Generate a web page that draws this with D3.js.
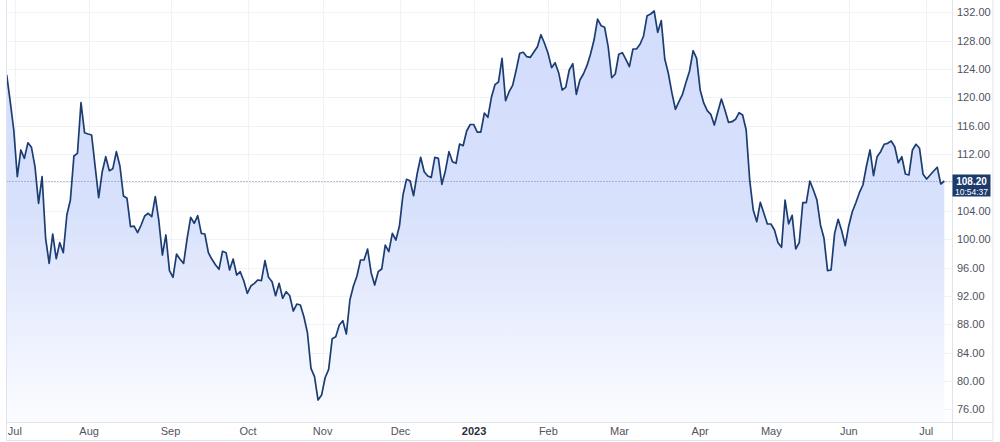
<!DOCTYPE html>
<html>
<head>
<meta charset="utf-8">
<script src="https://cdn.jsdelivr.net/npm/d3@7"></script>
<style>
  body { margin: 0; background: #fff; }
  svg { display: block; font-family: "Liberation Sans", Arial, sans-serif; }
</style>
</head>
<body>
<div id="frame"></div>
<script>
// daily closes, one per trading day (end of June 2022 -> early July 2023)
var values = [
  123.16, 119.39, 115.40, 108.81, 112.58, 111.40, 113.60, 112.96, 110.22, 105.06,
  108.81, 100.12, 96.59, 100.73, 97.24, 99.50, 98.09, 103.41, 105.52, 111.73,
  112.11, 119.25, 115.02, 114.83, 114.69, 110.22, 105.85, 109.51, 111.63, 109.66,
  109.94, 112.34, 110.32, 106.09, 105.76, 101.76, 101.85, 100.91, 102.00, 103.27,
  103.65, 103.17, 105.99, 102.60, 97.76, 100.59, 95.55, 94.62, 97.90, 97.16,
  96.59, 100.12, 103.08, 102.24, 103.31, 100.82, 100.73, 98.09, 97.16, 96.40,
  95.75, 98.29, 98.09, 95.65, 97.20, 94.94, 95.41, 94.14, 92.36, 93.39,
  93.77, 94.24, 94.14, 96.96, 94.62, 94.00, 92.02, 93.77, 91.66, 92.59,
  92.02, 89.86, 90.85, 90.71, 89.06, 86.80, 81.78, 80.60, 77.31, 78.01,
  80.45, 81.64, 85.96, 86.24, 87.89, 88.50, 86.62, 91.42, 93.39, 94.80,
  97.06, 97.06, 98.61, 95.27, 93.53, 95.41, 95.79, 99.17, 98.23, 100.82,
  99.88, 101.85, 106.23, 108.44, 108.24, 106.13, 109.19, 111.55, 109.51, 108.91,
  108.72, 111.55, 111.40, 107.74, 109.66, 112.34, 110.92, 110.70, 113.42, 113.18,
  115.26, 116.17, 116.17, 115.11, 115.11, 117.79, 117.19, 120.01, 121.79, 122.17,
  125.51, 119.53, 120.80, 121.70, 123.86, 126.22, 126.36, 125.74, 125.65, 126.40,
  127.15, 128.84, 127.63, 126.22, 124.19, 124.89, 123.48, 121.04, 121.42, 123.86,
  124.75, 120.43, 122.45, 123.30, 124.47, 126.08, 128.09, 131.05, 130.11, 129.88,
  127.15, 122.77, 123.30, 126.08, 126.30, 125.37, 124.33, 126.82, 126.82, 127.49,
  128.66, 131.52, 131.76, 132.18, 129.18, 130.82, 125.41, 123.40, 120.66, 118.32,
  119.39, 120.43, 122.13, 123.72, 126.58, 125.51, 121.04, 119.21, 118.12, 117.61,
  116.10, 117.98, 119.77, 118.22, 116.48, 116.57, 116.91, 117.84, 117.51, 115.40,
  108.34, 104.11, 102.46, 105.20, 103.65, 102.14, 102.14, 101.29, 99.50, 98.85,
  105.52, 102.14, 103.36, 98.61, 99.50, 105.14, 105.14, 108.20, 106.93, 105.52,
  102.00, 100.12, 95.55, 95.65, 100.82, 102.80, 101.19, 99.08, 101.90, 103.87,
  105.14, 106.55, 107.64, 110.32, 112.58, 108.95, 111.63, 112.34, 113.38, 113.52,
  113.85, 113.04, 110.78, 111.63, 109.19, 109.05, 112.58, 113.38, 112.82, 109.15,
  108.48, 109.05, 109.61, 110.14, 107.78, 108.20
];

// month starts, as position in trading days
var monthLabels = ["Jul", "Aug", "Sep", "Oct", "Nov", "Dec", "2023", "Feb", "Mar", "Apr", "May", "Jun", "Jul"];
var monthPos = [2.3, 23.3, 46.3, 68.2, 89.3, 111.3, 132.1, 153.1, 173.2, 196, 216.1, 238, 259.9];

var yTicks = [76, 80, 84, 88, 92, 96, 100, 104, 108, 112, 116, 120, 124, 128, 132];

var lastPrice = "108.20";
var lastTime = "10:54:37";

var W = 1000, H = 442;
var plotLeft = 6.5, plotRight = 952.5, plotBottom = 422, frameRight = 993, frameBottom = 440;

var svg = d3.select('#frame').append('svg').attr('width', W).attr('height', H);

var x = d3.scaleLinear().domain([0, values.length - 1]).range([6.7, 944.3]);
var y = d3.scaleLinear().domain([76, 132]).range([409.3, 12.3]);

var defs = svg.append('defs');
var grad = defs.append('linearGradient')
  .attr('id', 'fillGrad')
  .attr('gradientUnits', 'userSpaceOnUse')
  .attr('x1', 0).attr('y1', 0).attr('x2', 0).attr('y2', plotBottom);
grad.append('stop').attr('offset', '0%').attr('stop-color', '#d2dcfc');
grad.append('stop').attr('offset', '50%').attr('stop-color', '#d8e1fc');
grad.append('stop').attr('offset', '100%').attr('stop-color', '#fbfcff');

// grid
svg.append('g').selectAll('line.h')
  .data(yTicks).enter().append('line')
  .attr('x1', plotLeft).attr('x2', plotRight)
  .attr('y1', function(d) { return Math.round(y(d)) + 0.5; })
  .attr('y2', function(d) { return Math.round(y(d)) + 0.5; })
  .attr('stroke', '#f0f2f7').attr('stroke-width', 1);

svg.append('g').selectAll('line.v')
  .data(monthPos).enter().append('line')
  .attr('x1', function(d) { return Math.round(x(d)) + 0.5; })
  .attr('x2', function(d) { return Math.round(x(d)) + 0.5; })
  .attr('y1', 0).attr('y2', plotBottom)
  .attr('stroke', '#f0f2f7').attr('stroke-width', 1);

// area + line
var area = d3.area()
  .x(function(d, i) { return x(i); })
  .y0(plotBottom)
  .y1(function(d) { return y(d); });

var line = d3.line()
  .x(function(d, i) { return x(i); })
  .y(function(d) { return y(d); });

svg.append('path').datum(values)
  .attr('d', area)
  .attr('fill', 'url(#fillGrad)');

// last price dotted line
var lastY = Math.round(y(+lastPrice)) + 0.5;
svg.append('line')
  .attr('x1', plotLeft).attr('x2', plotRight)
  .attr('y1', lastY).attr('y2', lastY)
  .attr('stroke', '#7486a6').attr('stroke-width', 1)
  .attr('stroke-dasharray', '1,2');

svg.append('path').datum(values)
  .attr('d', line)
  .attr('fill', 'none')
  .attr('stroke', '#1c3d72')
  .attr('stroke-width', 1.7)
  .attr('stroke-linejoin', 'round');

// frame
var frameColor = '#e0e3eb';
svg.append('line').attr('x1', plotLeft).attr('x2', plotLeft).attr('y1', 0).attr('y2', frameBottom)
  .attr('stroke', frameColor);
svg.append('line').attr('x1', plotRight).attr('x2', plotRight).attr('y1', 0).attr('y2', frameBottom)
  .attr('stroke', frameColor);
svg.append('line').attr('x1', frameRight).attr('x2', frameRight).attr('y1', 0).attr('y2', frameBottom)
  .attr('stroke', frameColor);
svg.append('line').attr('x1', plotLeft).attr('x2', frameRight).attr('y1', plotBottom + 0.5).attr('y2', plotBottom + 0.5)
  .attr('stroke', frameColor);
svg.append('line').attr('x1', plotLeft).attr('x2', frameRight).attr('y1', frameBottom + 0.5).attr('y2', frameBottom + 0.5)
  .attr('stroke', frameColor);

// y labels (the one under the price tag is hidden, as on the original)
svg.append('g').selectAll('text')
  .data(yTicks.filter(function(d) { return Math.abs(y(d) - lastY) > 12; }))
  .enter().append('text')
  .attr('x', 957)
  .attr('y', function(d) { return y(d) + 4; })
  .attr('font-size', '11px')
  .attr('fill', '#50535e')
  .text(function(d) { return d3.format('.2f')(d); });

// x labels
svg.append('g').selectAll('text')
  .data(monthLabels).enter().append('text')
  .attr('x', function(d, i) { return x(monthPos[i]); })
  .attr('y', 435)
  .attr('text-anchor', 'middle')
  .attr('font-size', '11px')
  .attr('font-weight', function(d) { return d === '2023' ? 'bold' : 'normal'; })
  .attr('fill', function(d) { return d === '2023' ? '#2a2e39' : '#50535e'; })
  .text(function(d) { return d; });

// last price tag
svg.append('rect')
  .attr('x', plotRight).attr('y', lastY - 7)
  .attr('width', 38).attr('height', 22)
  .attr('fill', '#1c3a6c');
svg.append('text')
  .attr('x', plotRight + 19).attr('y', lastY + 3)
  .attr('text-anchor', 'middle')
  .attr('font-size', '10px').attr('font-weight', 'bold')
  .attr('fill', '#fff').text(lastPrice);
svg.append('text')
  .attr('x', plotRight + 19).attr('y', lastY + 13)
  .attr('text-anchor', 'middle')
  .attr('font-size', '8.5px')
  .attr('fill', '#fff').text(lastTime);
</script>
</body>
</html>
